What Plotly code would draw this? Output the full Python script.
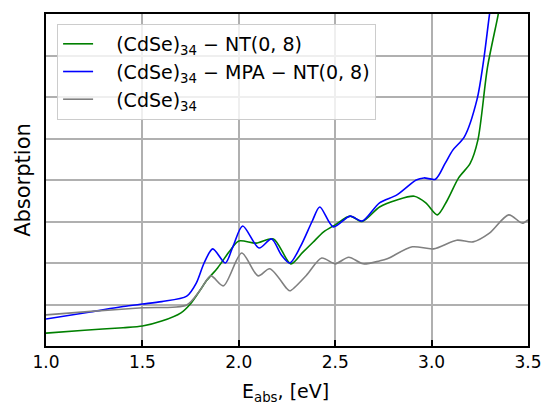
import plotly.graph_objects as go

# Series data, y in grid units (0..8)
green_x = [1.0, 1.2, 1.4, 1.5, 1.6, 1.7, 1.75, 1.8, 1.835, 1.89, 1.95, 2.0, 2.09, 2.18, 2.27, 2.33, 2.385, 2.44, 2.5, 2.577, 2.64, 2.73, 2.82, 2.91, 2.97, 3.03, 3.08, 3.14, 3.2, 3.24, 3.29, 3.345, 3.36]
green_y = [0.31, 0.38, 0.44, 0.48, 0.6, 0.8, 1.02, 1.35, 1.59, 1.88, 2.27, 2.53, 2.48, 2.58, 1.98, 2.25, 2.5, 2.75, 2.92, 3.13, 3.0, 3.35, 3.52, 3.61, 3.45, 3.16, 3.5, 4.05, 4.4, 4.96, 6.72, 7.98, 8.4]

blue_x = [1.0, 1.23, 1.4, 1.5, 1.6, 1.73, 1.78, 1.82, 1.865, 1.93, 1.97, 2.02, 2.105, 2.17, 2.22, 2.265, 2.32, 2.38, 2.42, 2.49, 2.577, 2.64, 2.73, 2.82, 2.92, 2.96, 3.02, 3.07, 3.11, 3.17, 3.235, 3.27, 3.30, 3.32]
blue_y = [0.65, 0.82, 0.95, 1.01, 1.07, 1.2, 1.52, 2.0, 2.34, 2.0, 2.4, 2.89, 2.36, 2.58, 2.2, 2.0, 2.4, 3.0, 3.35, 2.87, 3.13, 3.01, 3.45, 3.64, 4.0, 4.05, 4.02, 4.4, 4.72, 5.04, 5.93, 6.89, 7.98, 8.6]

gray_x = [1.0, 1.25, 1.5, 1.73, 1.8, 1.855, 1.92, 2.015, 2.1, 2.16, 2.25, 2.265, 2.35, 2.43, 2.5, 2.57, 2.645, 2.73, 2.77, 2.9, 3.01, 3.13, 3.215, 3.30, 3.40, 3.47, 3.5]
gray_y = [0.75, 0.84, 0.92, 0.99, 1.35, 1.69, 1.45, 2.24, 1.69, 1.86, 1.38, 1.33, 1.7, 2.12, 1.98, 2.14, 1.98, 2.05, 2.1, 2.39, 2.34, 2.55, 2.51, 2.72, 3.16, 2.96, 3.04]

names = ["(CdSe)<sub>34</sub> − NT(0, 8)",
         "(CdSe)<sub>34</sub> − MPA − NT(0, 8)",
         "(CdSe)<sub>34</sub>"]
x_ticks = [1.0, 1.5, 2.0, 2.5, 3.0, 3.5]
x_tick_labels = ["1.0", "1.5", "2.0", "2.5", "3.0", "3.5"]
x_title = "E<sub>abs</sub>, [eV]"
y_title = "Absorption"

FONT = "DejaVu Sans"
PAD = "\u00a0\u00a0\u00a0"
fig = go.Figure()
fig.add_trace(go.Scatter(x=green_x, y=green_y, mode="lines", name=PAD + names[0],
                         line=dict(color="green", width=1.6, shape="spline", smoothing=0.8)))
fig.add_trace(go.Scatter(x=blue_x, y=blue_y, mode="lines", name=PAD + names[1],
                         line=dict(color="blue", width=1.6, shape="spline", smoothing=0.8)))
fig.add_trace(go.Scatter(x=gray_x, y=gray_y, mode="lines", name=PAD + names[2],
                         line=dict(color="gray", width=1.6, shape="spline", smoothing=0.8)))

fig.update_layout(
    width=544, height=402,
    margin=dict(l=46, r=16, t=14, b=56, autoexpand=False),
    paper_bgcolor="white", plot_bgcolor="white",
    font=dict(family=FONT, size=17, color="black"),
    legend=dict(x=0.023, y=0.97, xanchor="left", yanchor="top",
                bgcolor="rgba(255,255,255,0.8)", bordercolor="#cccccc", borderwidth=1,
                font=dict(size=19), tracegroupgap=0),
    showlegend=True,
    annotations=[
        dict(text=x_title, xref="paper", yref="paper", x=0.496, y=-0.095,
             xanchor="center", yanchor="top", showarrow=False, font=dict(size=19)),
        dict(text=y_title, xref="paper", yref="paper", x=-0.048, y=0.5,
             xanchor="center", yanchor="middle", textangle=-90, showarrow=False,
             font=dict(size=21)),
    ],
)
fig.update_xaxes(range=[1.0, 3.5], tickvals=x_ticks, ticktext=x_tick_labels,
                 ticks="inside", ticklen=6, tickwidth=1.5, tickcolor="black",
                 showgrid=True, gridcolor="#b0b0b0", gridwidth=1.5,
                 showline=True, linecolor="black", linewidth=1.5, mirror=True,
                 tickfont=dict(size=17), zeroline=False, automargin=False)
fig.update_yaxes(range=[0, 8], dtick=1, showticklabels=False, ticks="",
                 showgrid=True, gridcolor="#b0b0b0", gridwidth=1.5,
                 showline=True, linecolor="black", linewidth=1.5, mirror=True,
                 zeroline=False, automargin=False)

fig.write_html("out.html", config={"displayModeBar": False},
               post_script="document.body.style.margin='0';document.body.style.overflow='hidden';")
